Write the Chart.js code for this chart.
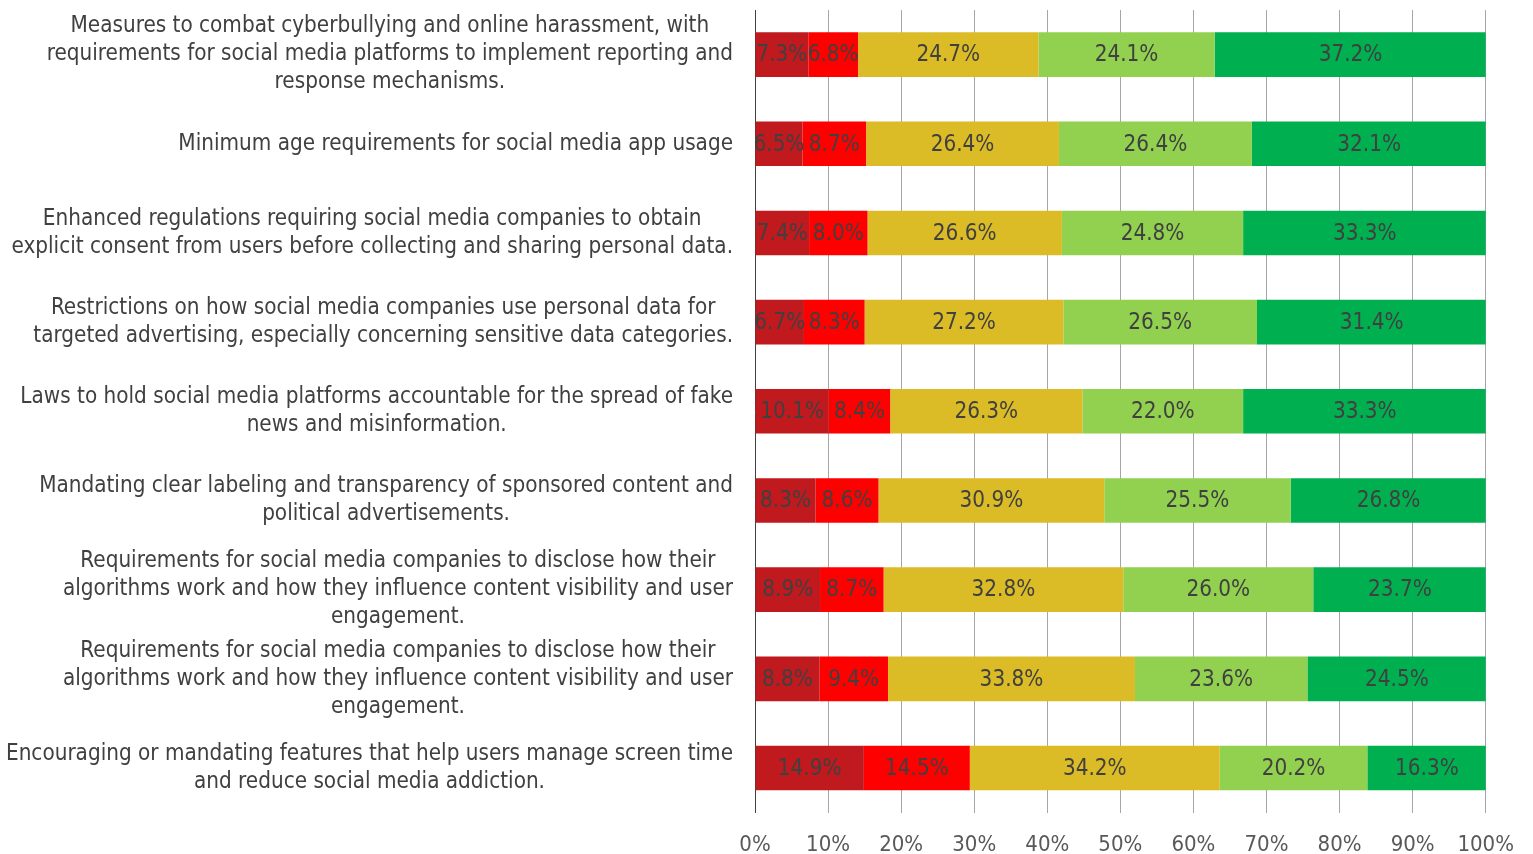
<!DOCTYPE html>
<html>
<head>
<meta charset="utf-8">
<script src="https://cdn.jsdelivr.net/npm/chart.js@4.4.1/dist/chart.umd.min.js"></script>
<style>
  html, body { margin: 0; padding: 0; background: #ffffff; }
  #wrap { width: 1533px; height: 854px; }
</style>
</head>
<body>
<div id="wrap"><canvas id="chart" width="1533" height="854"></canvas></div>
<script>
// Survey statements (each entry = wrapped lines of the label)
const categories = [
    ['Measures to combat cyberbullying and online harassment, with', 'requirements for social media platforms to implement reporting and', 'response mechanisms.'],
    ['Minimum age requirements for social media app usage'],
    ['Enhanced regulations requiring social media companies to obtain', 'explicit consent from users before collecting and sharing personal data.'],
    ['Restrictions on how social media companies use personal data for', 'targeted advertising, especially concerning sensitive data categories.'],
    ['Laws to hold social media platforms accountable for the spread of fake', 'news and misinformation.'],
    ['Mandating clear labeling and transparency of sponsored content and', 'political advertisements.'],
    ['Requirements for social media companies to disclose how their', 'algorithms work and how they influence content visibility and user', 'engagement.'],
    ['Requirements for social media companies to disclose how their', 'algorithms work and how they influence content visibility and user', 'engagement.'],
    ['Encouraging or mandating features that help users manage screen time', 'and reduce social media addiction.']
];

// Share of answers per statement (%), one array per answer level
const stronglyOppose = [7.3, 6.5, 7.4, 6.7, 10.1, 8.3, 8.9, 8.8, 14.9];
const oppose         = [6.8, 8.7, 8.0, 8.3, 8.4, 8.6, 8.7, 9.4, 14.5];
const neutral        = [24.7, 26.4, 26.6, 27.2, 26.3, 30.9, 32.8, 33.8, 34.2];
const support        = [24.1, 26.4, 24.8, 26.5, 22.0, 25.5, 26.0, 23.6, 20.2];
const stronglySupport = [37.2, 32.1, 33.3, 31.4, 33.3, 26.8, 23.7, 24.5, 16.3];

const xTicks = [0, 10, 20, 30, 40, 50, 60, 70, 80, 90, 100];

const FONT = "'DejaVu Sans Condensed', 'DejaVu Sans', sans-serif";
const LABEL_RIGHT = 733;

// Draw the percentage inside each bar segment
const segmentLabels = {
    id: 'segmentLabels',
    afterDatasetsDraw(chart) {
        const ctx = chart.ctx;
        ctx.save();
        ctx.font = '22.3px ' + FONT;
        ctx.fillStyle = '#404040';
        ctx.textAlign = 'center';
        ctx.textBaseline = 'middle';
        chart.data.datasets.forEach((ds, di) => {
            const meta = chart.getDatasetMeta(di);
            meta.data.forEach((bar, i) => {
                const cx = (bar.x + bar.base) / 2;
                ctx.fillText(ds.data[i].toFixed(1) + '%', cx, bar.y + 1);
            });
        });
        ctx.restore();
    }
};

// Category labels: block right-aligned to the axis, lines centered inside the block
const categoryLabels = {
    id: 'categoryLabels',
    afterDraw(chart) {
        const ctx = chart.ctx;
        const yScale = chart.scales.y;
        const lineH = 28;
        ctx.save();
        ctx.font = '22.3px ' + FONT;
        ctx.fillStyle = '#404040';
        ctx.textAlign = 'center';
        ctx.textBaseline = 'middle';
        categories.forEach((lines, i) => {
            const cy = yScale.getPixelForValue(i);
            const w = Math.max(...lines.map(l => ctx.measureText(l).width));
            const cx = LABEL_RIGHT - w / 2;
            const top = cy - (lines.length - 1) * lineH / 2;
            lines.forEach((l, k) => ctx.fillText(l, cx, top + k * lineH));
        });
        ctx.restore();
    }
};

const ctx = document.getElementById('chart').getContext('2d');
new Chart(ctx, {
    type: 'bar',
    data: {
        labels: categories.map(c => c.join(' ')),
        datasets: [
            { label: 'Strongly oppose', data: stronglyOppose, backgroundColor: '#C0191E' },
            { label: 'Oppose', data: oppose, backgroundColor: '#FF0000' },
            { label: 'Neutral', data: neutral, backgroundColor: '#DBBC26' },
            { label: 'Support', data: support, backgroundColor: '#92D050' },
            { label: 'Strongly support', data: stronglySupport, backgroundColor: '#00B050' }
        ]
    },
    options: {
        indexAxis: 'y',
        responsive: false,
        animation: false,
        layout: { padding: { left: 755, right: 42, top: 10, bottom: -23 } },
        datasets: { bar: { categoryPercentage: 1, barPercentage: 0.5, borderWidth: 0 } },
        plugins: {
            legend: { display: false },
            tooltip: { enabled: false }
        },
        scales: {
            x: {
                stacked: true,
                min: 0,
                max: 100,
                afterBuildTicks: (axis) => { axis.ticks = xTicks.map(v => ({ value: v })); },
                ticks: {
                    color: '#595959',
                    font: { family: FONT, size: 22 },
                    padding: 19,
                    maxRotation: 0,
                    callback: (v) => v + '%'
                },
                grid: { color: '#A6A6A6', lineWidth: 1, drawTicks: false },
                border: { display: false }
            },
            y: {
                stacked: true,
                ticks: { display: false },
                grid: { display: false, drawTicks: false },
                border: { display: true, color: '#404040', width: 1 }
            }
        }
    },
    plugins: [segmentLabels, categoryLabels]
});
</script>
</body>
</html>
